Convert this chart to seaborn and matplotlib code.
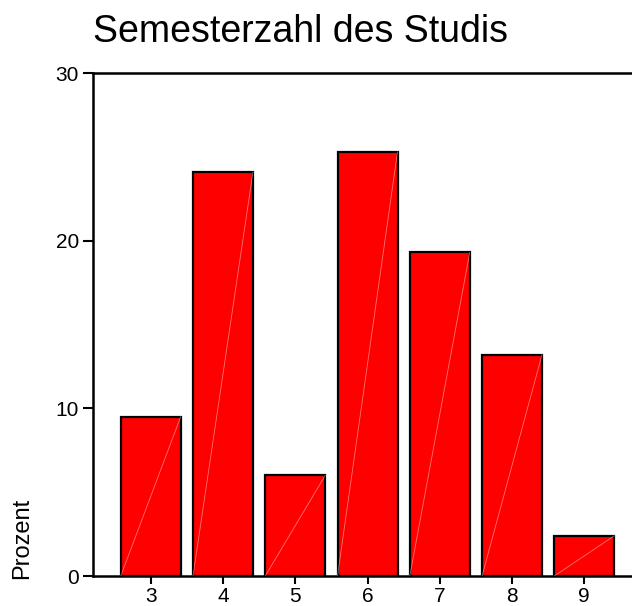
import matplotlib
matplotlib.use("Agg")
import matplotlib.pyplot as plt
import pandas as pd
import seaborn as sns

# Semesterzahl des Studis -- Prozent pro Semester
semester = ["3", "4", "5", "6", "7", "8", "9"]
prozent = [9.5, 24.1, 6.0, 25.3, 19.3, 13.2, 2.4]
y_ticks = [0, 10, 20, 30]

sns.set_style("white")
plt.rcParams["font.family"] = ["Liberation Sans", "DejaVu Sans"]
plt.rcParams["text.color"] = "black"

df = pd.DataFrame({"semester": semester, "prozent": prozent})

fig = plt.figure(figsize=(6.32, 6.06), dpi=100)
ax = fig.add_axes([0.147, 0.0495, 0.853, 0.83])

bar_w = 0.83
sns.barplot(data=df, x="semester", y="prozent", color="#ff0000", saturation=1,
            edgecolor="black", linewidth=1.6, width=bar_w, ax=ax)

# faint diagonal artefact across each bar
for i, h in enumerate(df["prozent"]):
    ax.plot([i - bar_w / 2, i + bar_w / 2], [0, h], color="white",
            lw=0.6, alpha=0.45, zorder=3)

ax.set_xlim(-0.8, 6.66)
ax.set_ylim(0, 30)
ax.set_yticks(y_ticks)
ax.set_xlabel("")
ax.set_ylabel("")

for side in ["top", "bottom", "left"]:
    ax.spines[side].set_visible(True)
    ax.spines[side].set_color("black")
    ax.spines[side].set_linewidth(1.8)
ax.spines["right"].set_visible(False)

ax.tick_params(axis="y", direction="out", length=7, width=1.5, labelsize=15, pad=3,
               left=True, colors="black")
ax.tick_params(axis="x", direction="out", length=6, width=1.5, labelsize=15, pad=2,
               bottom=True, colors="black")

fig.text(0.147, 0.947, "Semesterzahl des Studis", fontsize=27, ha="left", va="center",
         color="black")
fig.text(0.035, 0.112, "Prozent", fontsize=17, rotation=90, ha="center", va="center",
         color="black")

fig.savefig("out.png", dpi=100)
